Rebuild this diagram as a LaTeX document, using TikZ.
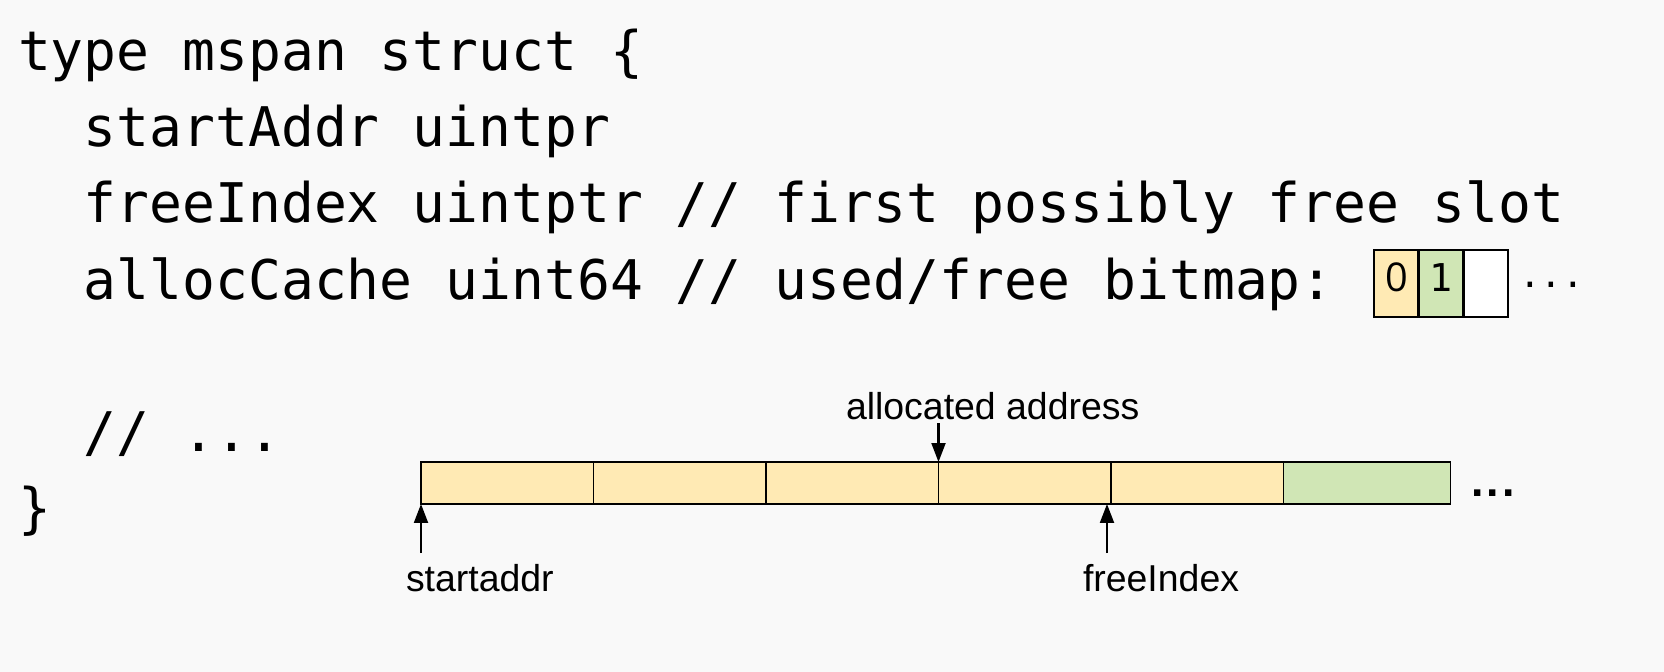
\documentclass[tikz,border=0pt]{standalone}
\usepackage{fontspec}
\setmainfont{Liberation Sans}
\newfontfamily\codefont{DejaVu Sans Mono}
\newfontfamily\zerofont{Open Sans}
\usetikzlibrary{arrows.meta}
\definecolor{bg}{HTML}{F9F9F9}
\definecolor{cellyellow}{HTML}{FFEAB4}
\definecolor{cellgreen}{HTML}{D0E6B5}
\begin{document}
\begin{tikzpicture}[x=0.02cm,y=-0.02cm,
  code/.style={anchor=base west, inner sep=0pt, outer sep=0pt, font=\codefont\fontsize{31.1pt}{37pt}\selectfont},
  lbl/.style={anchor=base west, inner sep=0pt, outer sep=0pt, font=\fontsize{21.3pt}{25pt}\selectfont},
  cell/.style={draw=black, line width=1.1pt, minimum height=0.84cm, inner sep=0pt, outer sep=0pt, anchor=north west},
  bit/.style={draw=black, line width=1.5pt, minimum width=0.894cm, minimum height=1.34cm, inner sep=0pt, outer sep=0pt, anchor=north west, text depth=0.24cm, font=\codefont\fontsize{21.8pt}{26pt}\selectfont},
  arr/.style={line width=1.15pt, -{Triangle[length=0.38cm,width=0.28cm]}}
]
\fill[bg] (0,0) rectangle (1664,672);
\useasboundingbox (0,0) rectangle (1664,672);

% code lines
\node[code] (l1) at (18,71) {type mspan struct \{};
\node[code] (l2) at (83.8,147) {startAddr uintpr};
\node[code] (l3) at (83.8,223) {freeIndex uintptr // first possibly free slot};
\node[code] (l4) at (83.8,299) {allocCache uint64 // used/free bitmap:};
\node[code] (l6) at (83.8,451) {// ...};
\node[code] (l7) at (18,527) {\}};

% bitmap
\node[bit, fill=cellyellow, font=\zerofont\fontsize{22.6pt}{26pt}\selectfont] (b0) at (1374,250) {0};
\node[bit, fill=cellgreen] (b1) at (1418.7,250) {1};
\node[bit, fill=white] (b2) at (1463.4,250) {};
\node[code, font=\codefont\fontsize{20.5pt}{24pt}\selectfont] (bdots) at (1519,287.5) {...};

% span bar
\node[cell, fill=cellyellow, minimum width=3.45cm] (c1) at (421,462) {};
\node[cell, fill=cellyellow, minimum width=3.45cm] (c2) at (593.5,462) {};
\node[cell, fill=cellyellow, minimum width=3.45cm] (c3) at (766,462) {};
\node[cell, fill=cellyellow, minimum width=3.45cm] (c4) at (938.5,462) {};
\node[cell, fill=cellyellow, minimum width=3.45cm] (c5) at (1111,462) {};
\node[cell, fill=cellgreen, minimum width=3.34cm] (c6) at (1283.5,462) {};
\node[lbl, font=\bfseries\fontsize{25.5pt}{30pt}\selectfont] (bardots) at (1471,496.5) {.\hspace{0.07cm}.\hspace{0.07cm}.};

% labels
\node[lbl] (al) at (846,419) {allocated address};
\node[lbl] (sa) at (406,591) {startaddr};
\node[lbl] (fi) at (1083,591) {freeIndex};

% arrows
\coordinate (alTail) at (938.5,423);
\coordinate (saTail) at (421,553);
\coordinate (fiTail) at (1107,553);
\draw[arr] (alTail) -- (c4.north west);
\draw[arr] (saTail) -- (c1.south west);
\draw[arr] (fiTail) -- (fiTail |- c5.south);
\end{tikzpicture}
\end{document}
